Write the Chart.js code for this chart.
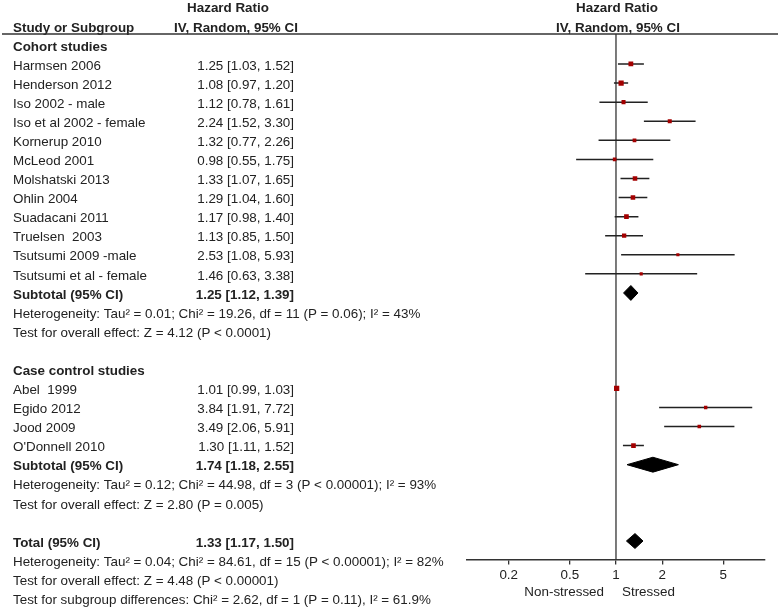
<!DOCTYPE html>
<html>
<head>
<meta charset="utf-8">
<title>Hazard Ratio forest plot</title>
<script src="https://cdn.jsdelivr.net/npm/chart.js@4.4.1/dist/chart.umd.min.js"></script>
<style>
  html, body { margin: 0; padding: 0; background: #fff; }
</style>
</head>
<body>
<canvas id="forestChart" width="778" height="610"></canvas>
<script>
'use strict'

// *********DATA***********

let cohortStudies = ['Harmsen 2006', 'Henderson 2012', 'Iso 2002 - male', 'Iso et al 2002 - female',
  'Kornerup 2010', 'McLeod 2001', 'Molshatski 2013', 'Ohlin 2004', 'Suadacani 2011',
  'Truelsen  2003', 'Tsutsumi 2009 -male', 'Tsutsumi et al - female'];
let cohortHR = [1.25, 1.08, 1.12, 2.24, 1.32, 0.98, 1.33, 1.29, 1.17, 1.13, 2.53, 1.46];
let cohortLow = [1.03, 0.97, 0.78, 1.52, 0.77, 0.55, 1.07, 1.04, 0.98, 0.85, 1.08, 0.63];
let cohortHigh = [1.52, 1.20, 1.61, 3.30, 2.26, 1.75, 1.65, 1.60, 1.40, 1.50, 5.93, 3.38];
// rough study weights (%)
let cohortWeight = [7.5, 9.5, 4.5, 4.5, 3.5, 3, 6.5, 6.5, 7, 5.5, 1.8, 1.8];

let caseStudies = ['Abel  1999', 'Egido 2012', 'Jood 2009', "O'Donnell 2010"];
let caseHR = [1.01, 3.84, 3.49, 1.30];
let caseLow = [0.99, 1.91, 2.06, 1.11];
let caseHigh = [1.03, 7.72, 5.91, 1.52];
let caseWeight = [9.8, 2.5, 3, 6.8];

// [estimate, lower, upper]
let cohortSubtotal = [1.25, 1.12, 1.39];
let caseSubtotal = [1.74, 1.18, 2.55];
let overallTotal = [1.33, 1.17, 1.50];

let cohortNotes = ['Heterogeneity: Tau\u00b2 = 0.01; Chi\u00b2 = 19.26, df = 11 (P = 0.06); I\u00b2 = 43%',
  'Test for overall effect: Z = 4.12 (P < 0.0001)'];
let caseNotes = ['Heterogeneity: Tau\u00b2 = 0.12; Chi\u00b2 = 44.98, df = 3 (P < 0.00001); I\u00b2 = 93%',
  'Test for overall effect: Z = 2.80 (P = 0.005)'];
let totalNotes = ['Heterogeneity: Tau\u00b2 = 0.04; Chi\u00b2 = 84.61, df = 15 (P < 0.00001); I\u00b2 = 82%',
  'Test for overall effect: Z = 4.48 (P < 0.00001)',
  'Test for subgroup differences: Chi\u00b2 = 2.62, df = 1 (P = 0.11), I\u00b2 = 61.9%'];

let tickValues = [0.2, 0.5, 1, 2, 5];
let tickLabels = ['0.2', '0.5', '1', '2', '5'];


// *********LAYOUT (rows)**********

let fontFamily = '"Liberation Sans", Arial, sans-serif';
let fontSize = 13.4;
let textColor = '#222';
let textShift = 2;   // px, text sits a touch below the marks
let yTopRow = -1.571;
let yBottomRow = 25.97;
let diamondHalf = 0.39;

function fmt(v){
  return v.toFixed(2);
}
function ciText(est, lo, hi){
  return fmt(est) + ' [' + fmt(lo) + ', ' + fmt(hi) + ']';
}

let textRows = [];   // {text,row,x,align,bold}
let studyPoints = [];
let studyRadius = [];
let ciSegments = [];
let diamonds = [];

let row = -1;
textRows.push({text: 'Cohort studies', row: row, x: 13, align: 'left', bold: true});

function addStudies(names, hr, lo, hi, weight){
  for(let i = 0; i < names.length; i++){
    row++;
    textRows.push({text: names[i], row: row, x: 13, align: 'left'});
    textRows.push({text: ciText(hr[i], lo[i], hi[i]), row: row, x: 294, align: 'right'});
    studyPoints.push({x: hr[i], y: row});
    // box side grows with weight; 'rect' side = radius * sqrt(2)
    studyRadius.push((1.5 + 1.2 * Math.sqrt(weight[i])) / Math.SQRT2);
    ciSegments.push({x: lo[i], y: row}, {x: hi[i], y: row}, {x: hi[i], y: null});
  }
}

function addSummary(label, values, notes){
  row++;
  textRows.push({text: label, row: row, x: 13, align: 'left', bold: true});
  textRows.push({text: ciText(values[0], values[1], values[2]), row: row, x: 294, align: 'right', bold: true});
  diamonds.push([
    {x: values[1], y: row},
    {x: values[0], y: row - diamondHalf},
    {x: values[2], y: row},
    {x: values[0], y: row + diamondHalf},
    {x: values[1], y: row}
  ]);
  for(let i = 0; i < notes.length; i++){
    row++;
    textRows.push({text: notes[i], row: row, x: 13, align: 'left'});
  }
}

addStudies(cohortStudies, cohortHR, cohortLow, cohortHigh, cohortWeight);
addSummary('Subtotal (95% CI)', cohortSubtotal, cohortNotes);
row += 2;
textRows.push({text: 'Case control studies', row: row, x: 13, align: 'left', bold: true});
addStudies(caseStudies, caseHR, caseLow, caseHigh, caseWeight);
addSummary('Subtotal (95% CI)', caseSubtotal, caseNotes);
row++;
addSummary('Total (95% CI)', overallTotal, totalNotes);


// *********TEXT PLUGIN**********

let forestText = {
  id: 'forestText',
  afterDraw(chart){
    let ctx = chart.ctx;
    let y = chart.scales.y;
    let x = chart.scales.x;
    let ty = function(r){ return y.getPixelForValue(r) + textShift; };
    ctx.save();
    ctx.fillStyle = textColor;
    ctx.textBaseline = 'middle';

    // column headers
    ctx.font = 'bold ' + fontSize + 'px ' + fontFamily;
    ctx.textAlign = 'center';
    ctx.fillText('Hazard Ratio', 228, ty(-3));
    ctx.fillText('IV, Random, 95% CI', 236, ty(-2));
    ctx.fillText('Hazard Ratio', x.getPixelForValue(1) + 1, ty(-3));
    ctx.fillText('IV, Random, 95% CI', x.getPixelForValue(1) + 2, ty(-2));
    ctx.textAlign = 'left';
    ctx.fillText('Study or Subgroup', 13, ty(-2));

    // header rule
    ctx.strokeStyle = '#333';
    ctx.lineWidth = 1.5;
    ctx.beginPath();
    ctx.moveTo(2, chart.chartArea.top);
    ctx.lineTo(778, chart.chartArea.top);
    ctx.stroke();

    textRows.forEach(function(t){
      ctx.font = (t.bold ? 'bold ' : '') + fontSize + 'px ' + fontFamily;
      ctx.textAlign = t.align;
      ctx.fillText(t.text, t.x, ty(t.row));
    });

    // favours labels
    ctx.font = fontSize + 'px ' + fontFamily;
    ctx.textAlign = 'right';
    ctx.fillText('Non-stressed', x.getPixelForValue(1) - 12, ty(27.6));
    ctx.textAlign = 'left';
    ctx.fillText('Stressed', x.getPixelForValue(1) + 6, ty(27.6));
    ctx.restore();
  }
};


// *********CHART**********

let ctx = document.getElementById('forestChart');

new Chart(ctx, {
  type: 'scatter',
  data: {
    datasets: [
      {
        label: 'studies',
        data: studyPoints,
        pointStyle: 'rect',
        pointRadius: studyRadius,
        backgroundColor: '#a30000',
        borderWidth: 0
      },
      {
        type: 'line',
        label: 'ci',
        data: ciSegments,
        borderColor: '#222',
        borderWidth: 1.5,
        pointRadius: 0,
        spanGaps: false
      },
      ...diamonds.map(function(d){
        return {
          type: 'line',
          data: d,
          borderColor: '#000',
          backgroundColor: '#000',
          borderWidth: 1,
          pointRadius: 0,
          tension: 0,
          fill: 'shape'
        };
      }),
      {
        type: 'line',
        label: 'no effect',
        data: [{x: 1, y: yTopRow}, {x: 1, y: yBottomRow}],
        borderColor: '#333',
        borderWidth: 1.3,
        pointRadius: 0
      }
    ]
  },
  options: {
    responsive: false,
    animation: false,
    events: [],
    layout: {
      padding: {left: 467, right: 13, top: 34, bottom: 23.4}
    },
    plugins: {
      legend: {display: false},
      tooltip: {enabled: false}
    },
    scales: {
      x: {
        type: 'logarithmic',
        min: 0.107,
        max: 9.35,
        afterBuildTicks: function(axis){
          axis.ticks = tickValues.map(function(v){ return {value: v}; });
        },
        border: {display: true, color: '#333', width: 1.5},
        grid: {drawOnChartArea: false, drawTicks: true, tickLength: 5, color: '#333', lineWidth: 1.3},
        ticks: {
          color: textColor,
          padding: 3,
          maxRotation: 0,
          autoSkip: false,
          font: {family: fontFamily, size: fontSize},
          callback: function(value, index){ return tickLabels[index]; }
        }
      },
      y: {
        type: 'linear',
        display: false,
        reverse: true,
        min: yTopRow,
        max: yBottomRow
      }
    }
  },
  plugins: [forestText]
});
</script>
</body>
</html>
